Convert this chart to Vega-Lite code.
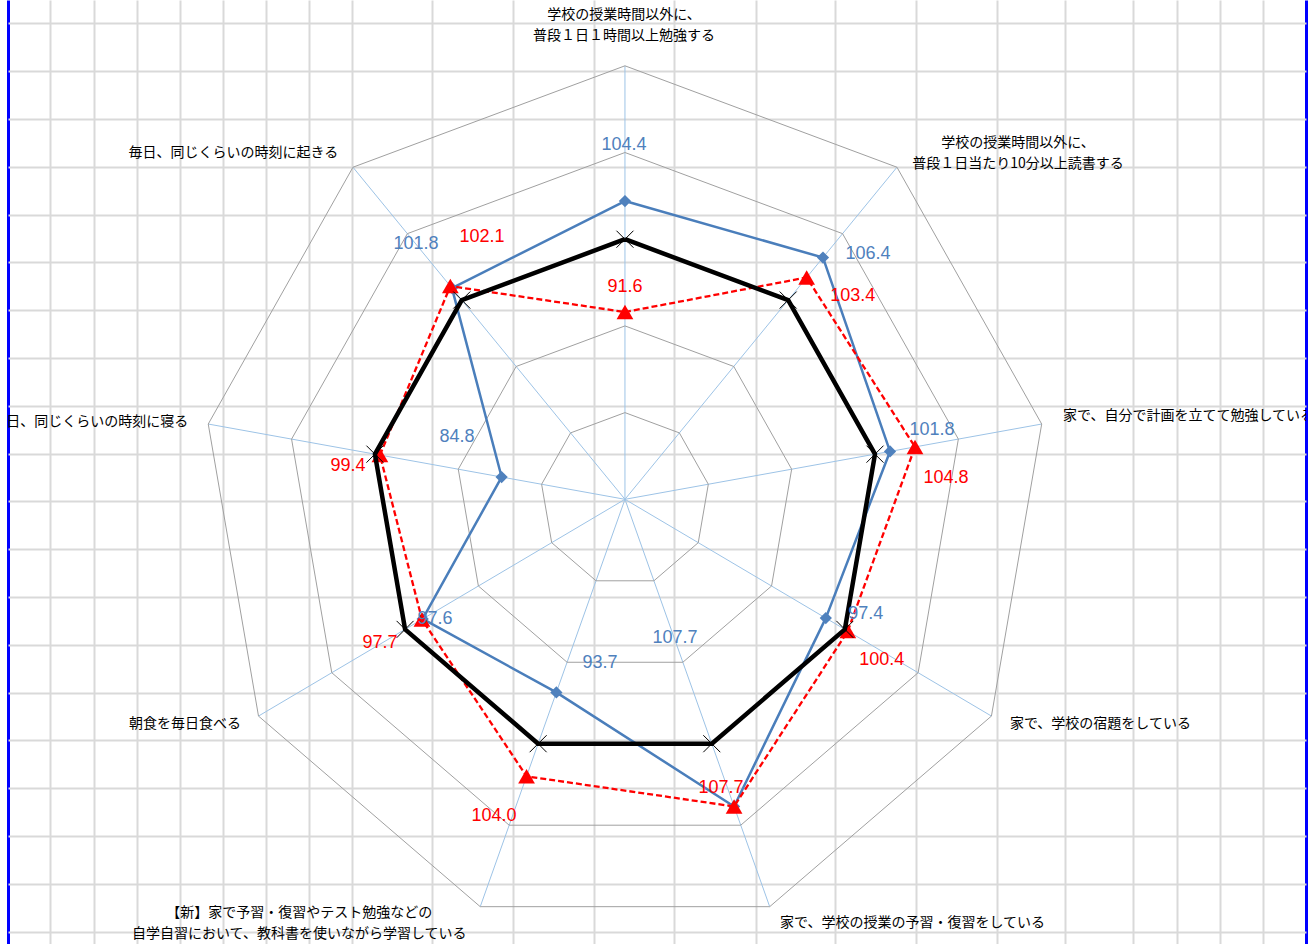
{
  "$schema": "https://vega.github.io/schema/vega-lite/v6.json",
  "width": 1298,
  "height": 944,
  "autosize": {"type": "none"},
  "padding": {"left": 8, "right": 8, "top": 0, "bottom": 0},
  "background": "white",
  "config": {
    "view": {"stroke": null},
    "axis": {"title": null, "labels": false, "ticks": false, "domain": false, "grid": false}
  },
  "datasets": {
    "axes": [
      {"i": 0, "label": "学校の授業時間以外に、\n普段１日１時間以上勉強する"},
      {"i": 1, "label": "学校の授業時間以外に、\n普段１日当たり10分以上読書する"},
      {"i": 2, "label": "家で、自分で計画を立てて勉強している"},
      {"i": 3, "label": "家で、学校の宿題をしている"},
      {"i": 4, "label": "家で、学校の授業の予習・復習をしている"},
      {"i": 5, "label": "【新】家で予習・復習やテスト勉強などの\n自学自習において、教科書を使いながら学習している"},
      {"i": 6, "label": "朝食を毎日食べる"},
      {"i": 7, "label": "毎日、同じくらいの時刻に寝る"},
      {"i": 8, "label": "毎日、同じくらいの時刻に起きる"}
    ],
    "scores": [
      {"i": 0, "series": "A", "value": 104.4},
      {"i": 1, "series": "A", "value": 106.4},
      {"i": 2, "series": "A", "value": 101.8},
      {"i": 3, "series": "A", "value": 97.4},
      {"i": 4, "series": "A", "value": 107.7},
      {"i": 5, "series": "A", "value": 93.7},
      {"i": 6, "series": "A", "value": 97.6},
      {"i": 7, "series": "A", "value": 84.8},
      {"i": 8, "series": "A", "value": 101.8},
      {"i": 0, "series": "B", "value": 91.6},
      {"i": 1, "series": "B", "value": 103.4},
      {"i": 2, "series": "B", "value": 104.8},
      {"i": 3, "series": "B", "value": 100.4},
      {"i": 4, "series": "B", "value": 107.7},
      {"i": 5, "series": "B", "value": 104.0},
      {"i": 6, "series": "B", "value": 97.7},
      {"i": 7, "series": "B", "value": 99.4},
      {"i": 8, "series": "B", "value": 102.1},
      {"i": 0, "series": "基準", "value": 100},
      {"i": 1, "series": "基準", "value": 100},
      {"i": 2, "series": "基準", "value": 100},
      {"i": 3, "series": "基準", "value": 100},
      {"i": 4, "series": "基準", "value": 100},
      {"i": 5, "series": "基準", "value": 100},
      {"i": 6, "series": "基準", "value": 100},
      {"i": 7, "series": "基準", "value": 100},
      {"i": 8, "series": "基準", "value": 100}
    ]
  },
  "layer": [
    {
      "data": {"name": "axes"},
      "transform": [
        {"calculate": "datum.i * 2 * PI / 9", "as": "t"},
        {"calculate": "0", "as": "cx"},
        {"calculate": "0", "as": "cy"},
        {"calculate": "50 * sin(datum.t)", "as": "ex"},
        {"calculate": "50 * cos(datum.t)", "as": "ey"}
      ],
      "mark": {"type": "rule", "color": "#9DC3E6", "strokeWidth": 1},
      "encoding": {
        "x": {
          "field": "cx", "type": "quantitative",
          "scale": {"domain": [-72.90, 80.47], "nice": false, "zero": false},
          "axis": {
            "grid": true,
            "values": [-72.90, -67.94, -62.74, -57.66, -52.58, -47.50, -42.42, -37.34, -32.26, -22.81, -13.23, -3.66, 5.79, 15.48, 24.81, 34.38, 43.96, 51.99, 60.03, 65.23, 70.31, 75.39, 80.47],
            "gridColor": {"condition": {"test": "datum.value < -72 || datum.value > 80", "value": "#0000FF"}, "value": "#D9D9D9"},
            "gridWidth": {"condition": {"test": "datum.value < -72 || datum.value > 80", "value": 3}, "value": 2}
          }
        },
        "y": {
          "field": "cy", "type": "quantitative",
          "scale": {"domain": [-51.29, 57.59], "nice": false, "zero": false},
          "axis": {
            "grid": true,
            "gridColor": "#D9D9D9",
            "gridWidth": 2,
            "values": [54.89, 52.13, 49.38, 46.62, 43.86, 41.11, 38.35, 35.59, 32.84, 30.08, 27.32, 24.57, 21.81, 19.05, 16.30, 13.54, 10.78, 8.03, 5.27, 2.51, -0.24, -3.00, -5.76, -8.51, -11.27, -14.03, -16.78, -19.54, -22.30, -25.05, -27.81, -30.57, -33.32, -36.08, -38.84, -41.59, -44.35, -47.11, -49.86]
          }
        },
        "x2": {"field": "ex"},
        "y2": {"field": "ey"}
      }
    },
    {
      "data": {"name": "axes"},
      "transform": [
        {"calculate": "datum.i * 2 * PI / 9", "as": "t"},
        {"calculate": "[10, 20, 30, 40, 50]", "as": "ring"},
        {"flatten": ["ring"]},
        {"calculate": "datum.ring * sin(datum.t)", "as": "ax"},
        {"calculate": "datum.ring * cos(datum.t)", "as": "ay"},
        {"calculate": "datum.ring * sin(datum.t + 2 * PI / 9)", "as": "bx"},
        {"calculate": "datum.ring * cos(datum.t + 2 * PI / 9)", "as": "by"}
      ],
      "mark": {"type": "rule", "color": "#A0A0A0", "strokeWidth": 1},
      "encoding": {
        "x": {"field": "ax", "type": "quantitative"},
        "y": {"field": "ay", "type": "quantitative"},
        "x2": {"field": "bx"},
        "y2": {"field": "by"}
      }
    },
    {
      "data": {"name": "scores"},
      "transform": [
        {"calculate": "datum.i == 0 ? [0, 9] : [datum.i]", "as": "ord"},
        {"flatten": ["ord"]},
        {"calculate": "datum.i * 2 * PI / 9", "as": "t"},
        {"calculate": "(datum.value - 70) * sin(datum.t)", "as": "px"},
        {"calculate": "(datum.value - 70) * cos(datum.t)", "as": "py"}
      ],
      "layer": [
        {
          "transform": [{"filter": "datum.series == 'A'"}],
          "mark": {"type": "line", "color": "#4A7EBB", "strokeWidth": 2.5, "strokeJoin": "round"},
          "encoding": {
            "x": {"field": "px", "type": "quantitative"},
            "y": {"field": "py", "type": "quantitative"},
            "order": {"field": "ord", "type": "quantitative"}
          }
        },
        {
          "transform": [{"filter": "datum.series == 'A' && datum.ord < 9"}],
          "mark": {"type": "point", "shape": "diamond", "filled": true, "color": "#4F81BD", "size": 150, "opacity": 1},
          "encoding": {
            "x": {"field": "px", "type": "quantitative"},
            "y": {"field": "py", "type": "quantitative"}
          }
        },
        {
          "transform": [{"filter": "datum.series == 'B'"}],
          "mark": {"type": "line", "color": "#FF0000", "strokeWidth": 2.3, "strokeDash": [6, 3], "strokeJoin": "round"},
          "encoding": {
            "x": {"field": "px", "type": "quantitative"},
            "y": {"field": "py", "type": "quantitative"},
            "order": {"field": "ord", "type": "quantitative"}
          }
        },
        {
          "transform": [{"filter": "datum.series == 'B' && datum.ord < 9"}],
          "mark": {"type": "point", "shape": "triangle-up", "filled": true, "color": "#FF0000", "size": 280, "opacity": 1},
          "encoding": {
            "x": {"field": "px", "type": "quantitative"},
            "y": {"field": "py", "type": "quantitative"}
          }
        },
        {
          "transform": [{"filter": "datum.series == '基準'"}],
          "mark": {"type": "line", "color": "#000000", "strokeWidth": 4.5, "strokeJoin": "round"},
          "encoding": {
            "x": {"field": "px", "type": "quantitative"},
            "y": {"field": "py", "type": "quantitative"},
            "order": {"field": "ord", "type": "quantitative"}
          }
        },
        {
          "transform": [{"filter": "datum.series == '基準' && datum.ord < 9"}],
          "mark": {"type": "point", "shape": "M-1,-1L1,1M-1,1L1,-1", "filled": false, "color": "#000000", "strokeWidth": 1, "size": 289, "opacity": 1},
          "encoding": {
            "x": {"field": "px", "type": "quantitative"},
            "y": {"field": "py", "type": "quantitative"}
          }
        },
        {
          "transform": [
            {"filter": "datum.series == 'A' && datum.ord < 9"},
            {"calculate": "datum.px + [-1, 45, 42, 40, -59, 43.6, 12.3, -44.7, -36][datum.i] / 8.463", "as": "lx"},
            {"calculate": "datum.py - [-56, -3.6, -21, -4, -168, -29, 0.4, -40, -44][datum.i] / 8.67", "as": "ly"}
          ],
          "mark": {"type": "text", "font": "Liberation Sans", "fontSize": 18, "color": "#4F81BD", "align": "center", "baseline": "middle", "clip": true},
          "encoding": {
            "x": {"field": "lx", "type": "quantitative"},
            "y": {"field": "ly", "type": "quantitative"},
            "text": {"field": "value", "type": "quantitative", "format": ".1f"}
          }
        },
        {
          "transform": [
            {"filter": "datum.series == 'B' && datum.ord < 9"},
            {"calculate": "datum.px + [0, 46, 31, 34, -13, -32.6, -42, -32, 31.6][datum.i] / 8.463", "as": "lx"},
            {"calculate": "datum.py - [-25, 18.5, 31, 29, -18, 40, 24, 11, -49][datum.i] / 8.67", "as": "ly"}
          ],
          "mark": {"type": "text", "font": "Liberation Sans", "fontSize": 18, "color": "#FF0000", "align": "center", "baseline": "middle", "clip": true},
          "encoding": {
            "x": {"field": "lx", "type": "quantitative"},
            "y": {"field": "ly", "type": "quantitative"},
            "text": {"field": "value", "type": "quantitative", "format": ".1f"}
          }
        }
      ]
    },
    {
      "data": {"name": "axes"},
      "transform": [
        {"calculate": "datum.i * 2 * PI / 9", "as": "t"},
        {"calculate": "50 * sin(datum.t) + [-1, 121, 21.3, 18.5, 10.3, -181, -17.5, -20, -14.7][datum.i] / 8.463", "as": "lx"},
        {"calculate": "50 * cos(datum.t) - [-50.8, -24.2, -8.5, 8, 16.3, 6, 8, -2, -14][datum.i] / 8.67", "as": "ly"}
      ],
      "layer": [
        {
          "transform": [{"filter": "indexof([0, 1, 5], datum.i) >= 0"}],
          "mark": {"type": "text", "font": "Noto Sans CJK JP", "fontSize": 14, "color": "#000000", "align": "center", "baseline": "middle", "lineBreak": "\n", "lineHeight": 21, "clip": true},
          "encoding": {
            "x": {"field": "lx", "type": "quantitative"},
            "y": {"field": "ly", "type": "quantitative"},
            "text": {"field": "label", "type": "nominal"}
          }
        },
        {
          "transform": [{"filter": "indexof([2, 3, 4], datum.i) >= 0"}],
          "mark": {"type": "text", "font": "Noto Sans CJK JP", "fontSize": 14, "color": "#000000", "align": "left", "baseline": "middle", "clip": true},
          "encoding": {
            "x": {"field": "lx", "type": "quantitative"},
            "y": {"field": "ly", "type": "quantitative"},
            "text": {"field": "label", "type": "nominal"}
          }
        },
        {
          "transform": [{"filter": "indexof([6, 7, 8], datum.i) >= 0"}],
          "mark": {"type": "text", "font": "Noto Sans CJK JP", "fontSize": 14, "color": "#000000", "align": "right", "baseline": "middle", "clip": true},
          "encoding": {
            "x": {"field": "lx", "type": "quantitative"},
            "y": {"field": "ly", "type": "quantitative"},
            "text": {"field": "label", "type": "nominal"}
          }
        }
      ]
    }
  ]
}
